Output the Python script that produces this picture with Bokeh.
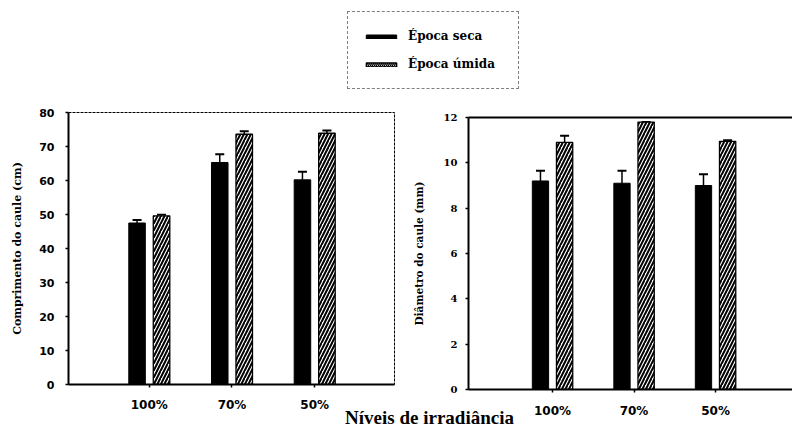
from bokeh.plotting import figure
from bokeh.models import (Range1d, FixedTicker, ColumnDataSource, Whisker, TeeHead,
                          Legend, LegendItem, Label, LinearAxis)
from bokeh.transform import dodge
from bokeh.embed import file_html
from bokeh.resources import INLINE

# ---------------- data ----------------
categories = ["100%", "70%", "50%"]
series = ["Época seca", "Época úmida"]

comp_seca = [47.5, 65.3, 60.2]
comp_seca_err = [0.9, 2.4, 2.4]
comp_umida = [49.6, 73.6, 73.9]
comp_umida_err = [0.3, 0.9, 0.8]

diam_seca = [9.2, 9.1, 9.0]
diam_seca_err = [0.45, 0.55, 0.5]
diam_umida = [10.9, 11.8, 10.95]
diam_umida_err = [0.3, 0.0, 0.05]

comp_ticks = [0, 10, 20, 30, 40, 50, 60, 70, 80]
diam_ticks = [0, 2, 4, 6, 8, 10, 12]

x_title = "Níveis de irradiância"
comp_title = "Comprimento do caule (cm)"
diam_title = "Diâmetro do caule (mm)"

# ---------------- helpers ----------------
OFF = 0.148
BW = 0.2
H = 429


def make_source(seca, seca_err, umida, umida_err):
    return ColumnDataSource(dict(
        x=list(range(len(categories))),
        seca=seca,
        seca_up=[v + e for v, e in zip(seca, seca_err)],
        umida=umida,
        umida_up=[v + e for v, e in zip(umida, umida_err)],
    ))


def style_axes(p, ylabel, ticks, ytick_font, ytick_size, ylabel_size, ylab_standoff,
               ytick_standoff, xtick_standoff):
    for ax in p.xaxis + p.yaxis:
        ax.axis_line_color = "black"
        ax.axis_line_width = 2
        ax.major_tick_line_color = "black"
        ax.major_tick_line_width = 1.5
        ax.major_tick_out = 3
        ax.major_tick_in = 0
        ax.minor_tick_line_color = None
        ax.major_label_text_color = "black"
        ax.major_label_text_font_style = "bold"
        ax.axis_label_text_color = "black"
    p.yaxis.ticker = FixedTicker(ticks=ticks)
    p.yaxis.major_label_text_font = ytick_font
    p.yaxis.major_label_text_font_size = ytick_size
    p.yaxis.major_label_standoff = ytick_standoff
    p.yaxis.axis_label = ylabel
    p.yaxis.axis_label_text_font = "DejaVu Serif"
    p.yaxis.axis_label_text_font_style = "bold"
    p.yaxis.axis_label_text_font_size = ylabel_size
    p.yaxis.axis_label_standoff = ylab_standoff
    p.xaxis.ticker = FixedTicker(ticks=list(range(len(categories))))
    p.xaxis.major_label_overrides = {i: c for i, c in enumerate(categories)}
    p.xaxis.major_label_text_font = "DejaVu Sans"
    p.xaxis.major_label_text_font_size = "12px"
    p.xaxis.major_label_standoff = xtick_standoff
    p.grid.visible = False


SECA_STYLE = dict(fill_color="black", line_color="black", line_width=1)
UMIDA_STYLE = dict(fill_color="white", line_color="black", line_width=1.3,
                   hatch_pattern="/", hatch_color="black", hatch_scale=7, hatch_weight=2)


def draw_bars(p, src):
    p.vbar(x=dodge("x", -OFF, range=p.x_range), top="seca", width=BW, source=src, **SECA_STYLE)
    p.vbar(x=dodge("x", OFF, range=p.x_range), top="umida", width=BW, source=src, **UMIDA_STYLE)
    for off, lo, up in ((-OFF, "seca", "seca_up"), (OFF, "umida", "umida_up")):
        w = Whisker(source=src, base=dodge("x", off, range=p.x_range), lower=lo, upper=up,
                    dimension="height", line_color="black", line_width=1.5,
                    lower_head=None,
                    upper_head=TeeHead(size=9, line_color="black", line_width=2))
        p.add_layout(w)


# ---------------- left panel ----------------
src1 = make_source(comp_seca, comp_seca_err, comp_umida, comp_umida_err)
p1 = figure(width=400, height=H, x_range=Range1d(-0.977, 2.965), y_range=Range1d(0, 80),
            output_backend="svg", toolbar_location=None,
            min_border_left=68, min_border_right=6, min_border_top=112, min_border_bottom=45)
p1.outline_line_color = "black"
p1.outline_line_width = 1
p1.outline_line_dash = "3 1"
draw_bars(p1, src1)
style_axes(p1, comp_title, comp_ticks, "DejaVu Sans", "11px", "11px", 12, 11, 10)

# ---------------- right panel ----------------
src2 = make_source(diam_seca, diam_seca_err, diam_umida, diam_umida_err)
p2 = figure(width=392, height=H, x_range=Range1d(-1.031, 2.944), y_range=Range1d(0, 12),
            output_backend="svg", toolbar_location=None,
            min_border_left=68, min_border_right=0, min_border_top=117, min_border_bottom=40,
            margin=(-H, 0, 0, 400))
p2.outline_line_color = None
draw_bars(p2, src2)
style_axes(p2, diam_title, diam_ticks, "DejaVu Serif", "10px", "10.5px", 16, 8, 11)
top_line = LinearAxis(ticker=FixedTicker(ticks=[]), major_label_text_font_size="0px",
                      axis_line_color="black", axis_line_width=2,
                      major_tick_line_color=None, minor_tick_line_color=None)
p2.add_layout(top_line, "above")

# ---------------- overlay: legend + common x title ----------------
ov = figure(width=792, height=H, x_range=Range1d(0, 792), y_range=Range1d(429, 0),
            output_backend="svg", toolbar_location=None, min_border=0,
            x_axis_type=None, y_axis_type=None, margin=(-H, 0, 0, 0))
ov.outline_line_color = None
ov.background_fill_alpha = 0
ov.border_fill_alpha = 0
r1 = ov.vbar(x="x", top="seca", width=BW, source=src1, visible=False, **SECA_STYLE)
r2 = ov.vbar(x="x", top="umida", width=BW, source=src1, visible=False,
             **dict(UMIDA_STYLE, hatch_scale=4, hatch_weight=1.3))
legend = Legend(items=[LegendItem(label=series[0], renderers=[r1]),
                       LegendItem(label=series[1], renderers=[r2])],
                location=(347, 340), orientation="vertical",
                glyph_width=38, glyph_height=5, label_height=20, label_width=96,
                label_standoff=8, spacing=8, padding=14, margin=0,
                label_text_font="DejaVu Serif", label_text_font_style="bold",
                label_text_font_size="12px", label_text_color="black",
                border_line_color="black", border_line_width=1, border_line_dash="4 1",
                background_fill_color="white", background_fill_alpha=1,
                inactive_fill_alpha=0)
ov.add_layout(legend)
ov.add_layout(Label(x=429, y=417, text=x_title, text_align="center", text_baseline="alphabetic",
                    text_font="Liberation Serif", text_font_style="bold", text_font_size="19px",
                    text_color="black"))

open("out.html", "w").write(file_html([p1, p2, ov], INLINE))
